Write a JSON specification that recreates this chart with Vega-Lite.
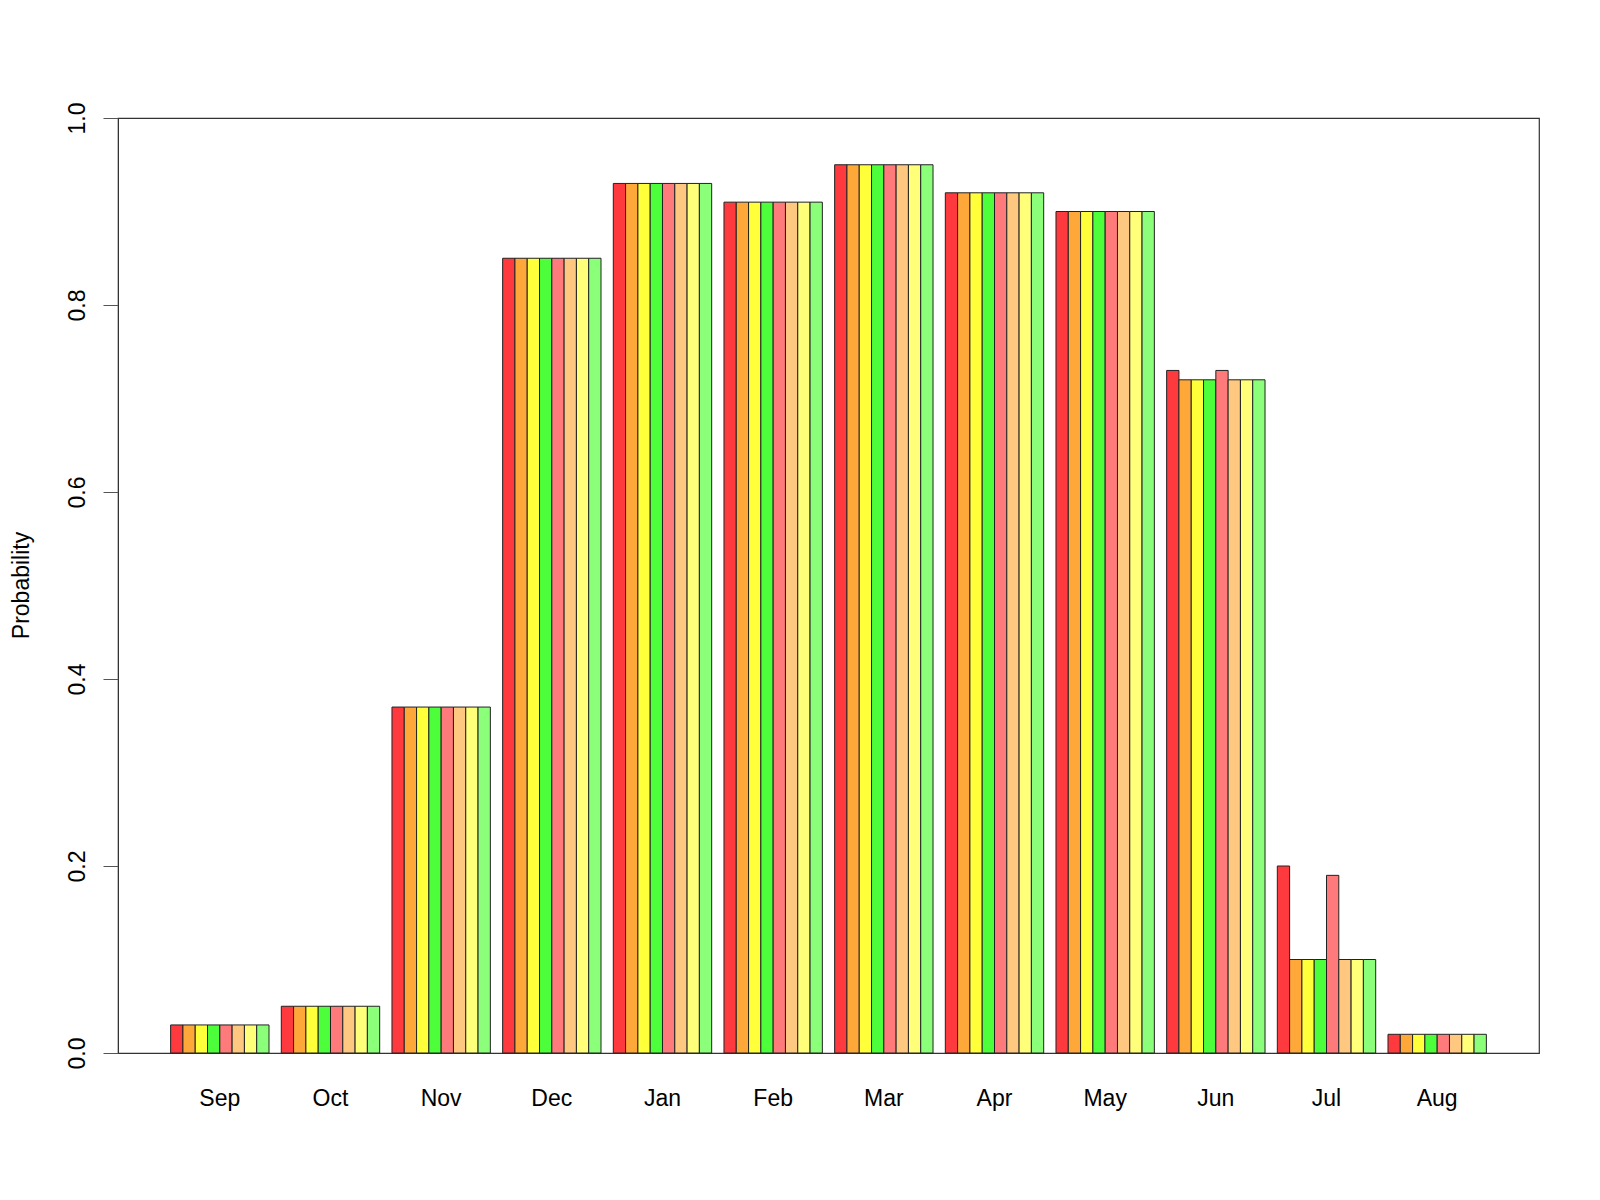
{
  "$schema": "https://vega.github.io/schema/vega-lite/v6.json",
  "autosize": {"type": "none"},
  "padding": {"left": 118, "top": 118, "right": 61, "bottom": 147},
  "width": 1421,
  "height": 935,
  "background": "white",
  "config": {
    "view": {"stroke": "#333333", "strokeWidth": 1.2},
    "font": "Liberation Sans"
  },
  "data": {
    "values": [
      {"month": "Sep", "series": "s1", "p": 0.03}, {"month": "Sep", "series": "s2", "p": 0.03}, {"month": "Sep", "series": "s3", "p": 0.03}, {"month": "Sep", "series": "s4", "p": 0.03},
      {"month": "Sep", "series": "s5", "p": 0.03}, {"month": "Sep", "series": "s6", "p": 0.03}, {"month": "Sep", "series": "s7", "p": 0.03}, {"month": "Sep", "series": "s8", "p": 0.03},
      {"month": "Oct", "series": "s1", "p": 0.05}, {"month": "Oct", "series": "s2", "p": 0.05}, {"month": "Oct", "series": "s3", "p": 0.05}, {"month": "Oct", "series": "s4", "p": 0.05},
      {"month": "Oct", "series": "s5", "p": 0.05}, {"month": "Oct", "series": "s6", "p": 0.05}, {"month": "Oct", "series": "s7", "p": 0.05}, {"month": "Oct", "series": "s8", "p": 0.05},
      {"month": "Nov", "series": "s1", "p": 0.37}, {"month": "Nov", "series": "s2", "p": 0.37}, {"month": "Nov", "series": "s3", "p": 0.37}, {"month": "Nov", "series": "s4", "p": 0.37},
      {"month": "Nov", "series": "s5", "p": 0.37}, {"month": "Nov", "series": "s6", "p": 0.37}, {"month": "Nov", "series": "s7", "p": 0.37}, {"month": "Nov", "series": "s8", "p": 0.37},
      {"month": "Dec", "series": "s1", "p": 0.85}, {"month": "Dec", "series": "s2", "p": 0.85}, {"month": "Dec", "series": "s3", "p": 0.85}, {"month": "Dec", "series": "s4", "p": 0.85},
      {"month": "Dec", "series": "s5", "p": 0.85}, {"month": "Dec", "series": "s6", "p": 0.85}, {"month": "Dec", "series": "s7", "p": 0.85}, {"month": "Dec", "series": "s8", "p": 0.85},
      {"month": "Jan", "series": "s1", "p": 0.93}, {"month": "Jan", "series": "s2", "p": 0.93}, {"month": "Jan", "series": "s3", "p": 0.93}, {"month": "Jan", "series": "s4", "p": 0.93},
      {"month": "Jan", "series": "s5", "p": 0.93}, {"month": "Jan", "series": "s6", "p": 0.93}, {"month": "Jan", "series": "s7", "p": 0.93}, {"month": "Jan", "series": "s8", "p": 0.93},
      {"month": "Feb", "series": "s1", "p": 0.91}, {"month": "Feb", "series": "s2", "p": 0.91}, {"month": "Feb", "series": "s3", "p": 0.91}, {"month": "Feb", "series": "s4", "p": 0.91},
      {"month": "Feb", "series": "s5", "p": 0.91}, {"month": "Feb", "series": "s6", "p": 0.91}, {"month": "Feb", "series": "s7", "p": 0.91}, {"month": "Feb", "series": "s8", "p": 0.91},
      {"month": "Mar", "series": "s1", "p": 0.95}, {"month": "Mar", "series": "s2", "p": 0.95}, {"month": "Mar", "series": "s3", "p": 0.95}, {"month": "Mar", "series": "s4", "p": 0.95},
      {"month": "Mar", "series": "s5", "p": 0.95}, {"month": "Mar", "series": "s6", "p": 0.95}, {"month": "Mar", "series": "s7", "p": 0.95}, {"month": "Mar", "series": "s8", "p": 0.95},
      {"month": "Apr", "series": "s1", "p": 0.92}, {"month": "Apr", "series": "s2", "p": 0.92}, {"month": "Apr", "series": "s3", "p": 0.92}, {"month": "Apr", "series": "s4", "p": 0.92},
      {"month": "Apr", "series": "s5", "p": 0.92}, {"month": "Apr", "series": "s6", "p": 0.92}, {"month": "Apr", "series": "s7", "p": 0.92}, {"month": "Apr", "series": "s8", "p": 0.92},
      {"month": "May", "series": "s1", "p": 0.90}, {"month": "May", "series": "s2", "p": 0.90}, {"month": "May", "series": "s3", "p": 0.90}, {"month": "May", "series": "s4", "p": 0.90},
      {"month": "May", "series": "s5", "p": 0.90}, {"month": "May", "series": "s6", "p": 0.90}, {"month": "May", "series": "s7", "p": 0.90}, {"month": "May", "series": "s8", "p": 0.90},
      {"month": "Jun", "series": "s1", "p": 0.73}, {"month": "Jun", "series": "s2", "p": 0.72}, {"month": "Jun", "series": "s3", "p": 0.72}, {"month": "Jun", "series": "s4", "p": 0.72},
      {"month": "Jun", "series": "s5", "p": 0.73}, {"month": "Jun", "series": "s6", "p": 0.72}, {"month": "Jun", "series": "s7", "p": 0.72}, {"month": "Jun", "series": "s8", "p": 0.72},
      {"month": "Jul", "series": "s1", "p": 0.20}, {"month": "Jul", "series": "s2", "p": 0.10}, {"month": "Jul", "series": "s3", "p": 0.10}, {"month": "Jul", "series": "s4", "p": 0.10},
      {"month": "Jul", "series": "s5", "p": 0.19}, {"month": "Jul", "series": "s6", "p": 0.10}, {"month": "Jul", "series": "s7", "p": 0.10}, {"month": "Jul", "series": "s8", "p": 0.10},
      {"month": "Aug", "series": "s1", "p": 0.02}, {"month": "Aug", "series": "s2", "p": 0.02}, {"month": "Aug", "series": "s3", "p": 0.02}, {"month": "Aug", "series": "s4", "p": 0.02},
      {"month": "Aug", "series": "s5", "p": 0.02}, {"month": "Aug", "series": "s6", "p": 0.02}, {"month": "Aug", "series": "s7", "p": 0.02}, {"month": "Aug", "series": "s8", "p": 0.02}
    ]
  },
  "mark": {"type": "bar", "stroke": "#222222", "strokeWidth": 1},
  "encoding": {
    "x": {
      "field": "month",
      "type": "nominal",
      "sort": ["Sep", "Oct", "Nov", "Dec", "Jan", "Feb", "Mar", "Apr", "May", "Jun", "Jul", "Aug"],
      "scale": {"paddingInner": 0.1111, "paddingOuter": 0.4756},
      "axis": {
        "title": null,
        "domain": false,
        "ticks": false,
        "tickSize": 0,
        "labelAngle": 0,
        "labelFontSize": 23,
        "labelColor": "#000000",
        "labelBaseline": "alphabetic",
        "labelPadding": 52
      }
    },
    "xOffset": {
      "field": "series",
      "type": "nominal",
      "scale": {"paddingInner": 0, "paddingOuter": 0}
    },
    "y": {
      "field": "p",
      "type": "quantitative",
      "scale": {"domain": [0, 1], "nice": false, "zero": true},
      "axis": {
        "title": "Probability",
        "values": [0, 0.2, 0.4, 0.6, 0.8, 1.0],
        "format": ".1f",
        "grid": false,
        "domainColor": "#333333",
        "tickColor": "#555555",
        "tickSize": 15,
        "labelAngle": -90,
        "labelAlign": "center",
        "labelBaseline": "bottom",
        "labelPadding": 14,
        "labelFontSize": 23,
        "labelColor": "#000000",
        "titleFontSize": 23,
        "titleFontWeight": "normal",
        "titleColor": "#000000",
        "titleAngle": -90,
        "titleAlign": "center",
        "titleBaseline": "alphabetic",
        "titleX": -90,
        "titleY": 467
      }
    },
    "color": {
      "field": "series",
      "type": "nominal",
      "legend": null,
      "scale": {
        "domain": ["s1", "s2", "s3", "s4", "s5", "s6", "s7", "s8"],
        "range": ["#FF3A3F", "#FFA83A", "#FFFF3A", "#4CFF3A", "#FF7A7A", "#FFC880", "#FFFF7A", "#8CFF7A"]
      }
    }
  }
}
